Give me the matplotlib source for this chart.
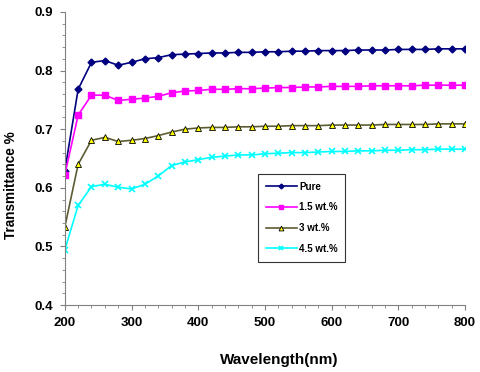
import numpy as np
import matplotlib
matplotlib.use('Agg')
import matplotlib.pyplot as plt
from matplotlib.ticker import MultipleLocator

wavelength = list(range(200, 801, 20))

pure = [0.629, 0.768, 0.814, 0.817, 0.809, 0.814, 0.820, 0.822, 0.827, 0.828,
        0.829, 0.830, 0.830, 0.831, 0.831, 0.832, 0.832, 0.833, 0.833, 0.834,
        0.834, 0.834, 0.835, 0.835, 0.835, 0.836, 0.836, 0.836, 0.837, 0.837, 0.837]
wt15 = [0.622, 0.724, 0.758, 0.758, 0.749, 0.751, 0.753, 0.756, 0.762, 0.765,
        0.766, 0.768, 0.768, 0.769, 0.769, 0.770, 0.771, 0.771, 0.772, 0.772,
        0.773, 0.773, 0.773, 0.774, 0.774, 0.774, 0.774, 0.775, 0.775, 0.775, 0.775]
wt3 = [0.533, 0.640, 0.681, 0.686, 0.679, 0.681, 0.684, 0.689, 0.695, 0.700,
       0.702, 0.703, 0.703, 0.704, 0.704, 0.705, 0.705, 0.706, 0.706, 0.706,
       0.707, 0.707, 0.707, 0.707, 0.708, 0.708, 0.708, 0.708, 0.709, 0.709, 0.709]
wt45 = [0.494, 0.570, 0.602, 0.606, 0.601, 0.598, 0.606, 0.620, 0.638, 0.644,
        0.648, 0.652, 0.654, 0.656, 0.656, 0.658, 0.659, 0.660, 0.660, 0.661,
        0.662, 0.662, 0.663, 0.663, 0.664, 0.664, 0.665, 0.665, 0.666, 0.666, 0.666]

labels = ['Pure', '1.5 wt.%', '3 wt.%', '4.5 wt.%']

plt.rcParams['font.family'] = 'Liberation Sans'
plt.rcParams['font.weight'] = 'bold'

fig = plt.figure(figsize=(4.8, 3.72), dpi=100)
ax = fig.add_axes([0.135, 0.18, 0.834, 0.788])

ax.plot(wavelength, pure, color='#000080', marker='D', markersize=3.5, linewidth=1.2, label=labels[0])
ax.plot(wavelength, wt15, color='#ff00ff', marker='s', markersize=5, linewidth=1.2, label=labels[1])
ax.plot(wavelength, wt3, color='#5c5c33', marker='^', markersize=5, markerfacecolor='#ffff00',
        markeredgecolor='black', markeredgewidth=0.6, linewidth=1.2, label=labels[2])
ax.plot(wavelength, wt45, color='#00ffff', marker='x', markersize=5, markeredgewidth=1.2, linewidth=1.2, label=labels[3])

ax.set_xlim(200, 800)
ax.set_ylim(0.4, 0.9)
ax.xaxis.set_major_locator(MultipleLocator(100))
ax.xaxis.set_minor_locator(MultipleLocator(20))
ax.yaxis.set_major_locator(MultipleLocator(0.1))
ax.yaxis.set_minor_locator(MultipleLocator(0.02))
ax.yaxis.set_major_formatter(plt.FuncFormatter(lambda v, p: f'{v:.1f}'))

for s in ['top', 'right']:
    ax.spines[s].set_visible(False)
for s in ['left', 'bottom']:
    ax.spines[s].set_color('#808080')
    ax.spines[s].set_linewidth(0.8)
ax.tick_params(which='major', length=3.5, color='#808080', labelsize=9.5, pad=5)
ax.tick_params(which='minor', length=2.5, color='#808080')

ax.set_xlabel('Wavelength(nm)', fontsize=11, fontweight='bold')
ax.set_ylabel('Transmittance %', fontsize=9.8, fontweight='bold')
ax.xaxis.set_label_coords(0.535, -0.162)
ax.yaxis.set_label_coords(-0.118, 0.41)

leg = ax.legend(loc='upper left', bbox_to_anchor=(0.483, 0.447), fontsize=7, frameon=True,
                fancybox=False, edgecolor='black', handlelength=3.2, handletextpad=0.2,
                labelspacing=1.1, borderpad=0.8, markerscale=0.7, borderaxespad=0)
leg.get_frame().set_linewidth(0.8)

fig.savefig('out.png', dpi=100)
